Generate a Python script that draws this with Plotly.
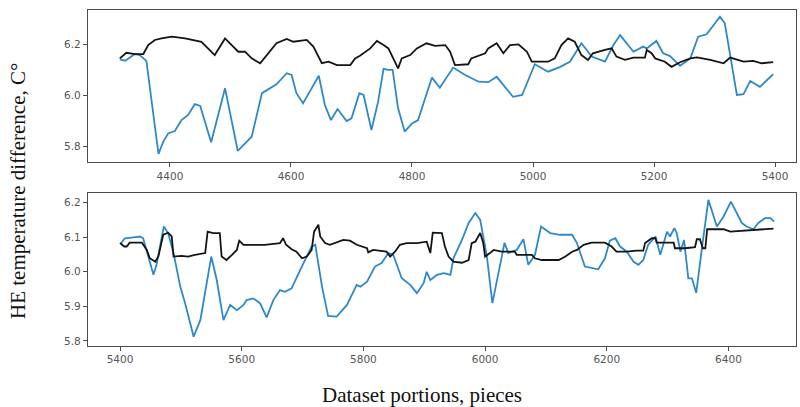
import plotly.graph_objects as go

# ---- Top panel data ----
top_blue_x = [4317, 4326, 4342, 4350, 4361, 4381, 4389, 4397, 4408, 4419, 4430, 4441, 4450, 4468, 4491,
              4512, 4527, 4535, 4552, 4565, 4576, 4593, 4601, 4609, 4620, 4631, 4646, 4656, 4666, 4677,
              4692, 4700, 4713, 4720, 4733, 4744, 4753, 4761, 4768, 4777, 4788, 4800, 4810, 4833, 4846,
              4868, 4888, 4910, 4926, 4940, 4951, 4967, 4982, 5003, 5025, 5045, 5061, 5080, 5097, 5119,
              5133, 5144, 5166, 5182, 5188, 5204, 5215, 5226, 5243, 5260, 5273, 5287, 5309, 5317, 5337,
              5348, 5359, 5375, 5397]
top_blue_y = [6.141, 6.136, 6.162, 6.158, 6.135, 5.772, 5.82, 5.852, 5.861, 5.904, 5.924, 5.966, 5.959, 5.817, 6.028,
              5.784, 5.82, 5.839, 6.009, 6.028, 6.044, 6.087, 6.080, 6.009, 5.970, 6.015, 6.077, 5.963, 5.904, 5.947,
              5.90, 5.911, 6.009, 6.002, 5.865, 5.976, 6.104, 6.100, 6.100, 5.95, 5.859, 5.891, 5.904, 6.07, 6.03,
              6.109, 6.080, 6.054, 6.052, 6.073, 6.041, 5.995, 6.002, 6.122, 6.093, 6.112, 6.132, 6.204, 6.152, 6.132,
              6.197, 6.236, 6.171, 6.191, 6.184, 6.213, 6.165, 6.155, 6.116, 6.145, 6.230, 6.239, 6.308, 6.282, 6.002,
              6.005, 6.057, 6.034, 6.083]

top_black_x = [4317, 4328, 4342, 4356, 4364, 4375, 4386, 4403, 4425, 4452, 4474, 4491, 4502, 4513, 4524,
               4535, 4549, 4565, 4576, 4593, 4604, 4626, 4637, 4651, 4662, 4676, 4698, 4706, 4714, 4731,
               4742, 4753, 4761, 4769, 4777, 4783, 4797, 4808, 4824, 4838, 4855, 4863, 4871, 4893, 4898,
               4921, 4926, 4940, 4951, 4962, 4976, 4990, 4998, 5025, 5036, 5047, 5058, 5069, 5080, 5091,
               5099, 5119, 5130, 5138, 5152, 5166, 5185, 5188, 5196, 5202, 5218, 5229, 5243, 5260, 5271,
               5293, 5315, 5326, 5348, 5364, 5378, 5397]
top_black_y = [6.145, 6.167, 6.162, 6.162, 6.197, 6.217, 6.223, 6.230, 6.223, 6.210, 6.158, 6.223, 6.197, 6.171, 6.171,
               6.145, 6.126, 6.171, 6.204, 6.221, 6.210, 6.217, 6.191, 6.126, 6.132, 6.119, 6.119, 6.145, 6.155, 6.184,
               6.213, 6.197, 6.184, 6.145, 6.106, 6.145, 6.158, 6.184, 6.204, 6.194, 6.197, 6.171, 6.119, 6.122, 6.145,
               6.165, 6.184, 6.204, 6.165, 6.197, 6.200, 6.171, 6.132, 6.132, 6.145, 6.197, 6.223, 6.210, 6.158, 6.139,
               6.165, 6.178, 6.184, 6.152, 6.139, 6.148, 6.148, 6.178, 6.165, 6.145, 6.132, 6.112, 6.130, 6.145, 6.149,
               6.139, 6.126, 6.148, 6.132, 6.135, 6.126, 6.130]

# ---- Bottom panel data ----
bot_blue_x = [5402, 5408, 5419, 5433, 5438, 5447, 5455, 5460, 5472, 5479, 5488, 5499, 5507, 5521, 5532,
              5550, 5559, 5570, 5581, 5592, 5603, 5608, 5619, 5630, 5641, 5652, 5663, 5671, 5682, 5696,
              5715, 5721, 5732, 5742, 5756, 5773, 5789, 5795, 5806, 5819, 5830, 5841, 5849, 5863, 5877,
              5888, 5899, 5904, 5910, 5921, 5932, 5943, 5948, 5962, 5973, 5984, 5992, 6003, 6012, 6022,
              6032, 6038, 6052, 6063, 6071, 6082, 6092, 6107, 6123, 6143, 6151, 6164, 6186, 6197, 6205,
              6214, 6222, 6233, 6244, 6252, 6260, 6268, 6280, 6288, 6299, 6304, 6311, 6315, 6321, 6327,
              6334, 6340, 6347, 6356, 6367, 6381, 6392, 6404, 6414, 6422, 6430, 6441, 6449, 6460, 6469,
              6475]
bot_blue_y = [6.083, 6.097, 6.099, 6.102, 6.097, 6.044, 5.991, 6.020, 6.131, 6.112, 6.054, 5.957, 5.909, 5.812, 5.860,
              6.044, 5.976, 5.860, 5.904, 5.889, 5.904, 5.918, 5.923, 5.909, 5.868, 5.918, 5.947, 5.942, 5.952, 6.005,
              6.073, 6.078, 5.957, 5.872, 5.870, 5.904, 5.962, 5.957, 5.971, 6.015, 6.025, 6.054, 6.049, 5.981, 5.962,
              5.938, 5.967, 6.000, 5.976, 5.991, 5.996, 5.991, 6.039, 6.092, 6.141, 6.170, 6.150, 6.044, 5.909, 5.996,
              6.084, 6.054, 6.063, 6.094, 6.020, 6.049, 6.131, 6.112, 6.107, 6.107, 6.083, 6.015, 6.007, 6.039, 6.090,
              6.097, 6.073, 6.058, 6.029, 6.020, 6.034, 6.078, 6.102, 6.049, 6.116, 6.102, 6.126, 6.112, 6.058, 6.092,
              5.981, 5.981, 5.939, 6.063, 6.208, 6.131, 6.160, 6.203, 6.170, 6.141, 6.131, 6.123, 6.141, 6.155, 6.155,
              6.145]

bot_black_x = [5400, 5407, 5411, 5416, 5436, 5444, 5449, 5458, 5463, 5471, 5479, 5485, 5488, 5501, 5512,
               5523, 5540, 5544, 5553, 5564, 5567, 5575, 5584, 5592, 5596, 5603, 5638, 5663, 5668, 5673,
               5682, 5690, 5699, 5707, 5715, 5719, 5726, 5729, 5737, 5745, 5767, 5778, 5789, 5806, 5808,
               5816, 5838, 5844, 5852, 5860, 5871, 5888, 5904, 5910, 5914, 5929, 5934, 5940, 5948, 5962,
               5973, 5978, 5984, 5992, 5997, 6000, 6008, 6014, 6027, 6049, 6052, 6077, 6082, 6093, 6121,
               6132, 6143, 6151, 6162, 6175, 6197, 6208, 6216, 6233, 6249, 6260, 6263, 6274, 6280, 6282,
               6310, 6312, 6329, 6345, 6348, 6353, 6358, 6362, 6365, 6392, 6403, 6425, 6447, 6474]
bot_black_y = [6.083, 6.073, 6.073, 6.084, 6.084, 6.063, 6.039, 6.029, 6.044, 6.107, 6.113, 6.102, 6.044, 6.046, 6.044,
               6.049, 6.054, 6.116, 6.112, 6.112, 6.044, 6.034, 6.049, 6.063, 6.090, 6.078, 6.078, 6.083, 6.097, 6.078,
               6.065, 6.058, 6.039, 6.044, 6.063, 6.116, 6.136, 6.102, 6.083, 6.078, 6.092, 6.090, 6.078, 6.068, 6.056,
               6.063, 6.058, 6.044, 6.058, 6.078, 6.083, 6.083, 6.087, 6.054, 6.113, 6.112, 6.073, 6.044, 6.029, 6.026,
               6.034, 6.083, 6.087, 6.112, 6.083, 6.044, 6.054, 6.063, 6.058, 6.058, 6.049, 6.049, 6.039, 6.034, 6.034,
               6.044, 6.058, 6.063, 6.078, 6.084, 6.084, 6.073, 6.058, 6.058, 6.061, 6.061, 6.083, 6.097, 6.097, 6.084,
               6.084, 6.068, 6.068, 6.071, 6.094, 6.094, 6.068, 6.068, 6.123, 6.123, 6.116, 6.119, 6.121, 6.125]

top_xticks = [4400, 4600, 4800, 5000, 5200, 5400]
top_yticks = [5.8, 6.0, 6.2]
bot_xticks = [5400, 5600, 5800, 6000, 6200, 6400]
bot_yticks = [5.8, 5.9, 6.0, 6.1, 6.2]

x_title = "Dataset portions, pieces"
y_title = "HE temperature difference, C°"

BLUE = "#2f88c8"
BLACK = "#141414"
W, H = 800, 407

fig = go.Figure()
fig.add_trace(go.Scatter(x=top_blue_x, y=top_blue_y, mode="lines",
                         line=dict(color=BLUE, width=1.8), xaxis="x", yaxis="y", showlegend=False))
fig.add_trace(go.Scatter(x=top_black_x, y=top_black_y, mode="lines",
                         line=dict(color=BLACK, width=1.8), xaxis="x", yaxis="y", showlegend=False))
fig.add_trace(go.Scatter(x=bot_blue_x, y=bot_blue_y, mode="lines",
                         line=dict(color=BLUE, width=1.8), xaxis="x2", yaxis="y2", showlegend=False))
fig.add_trace(go.Scatter(x=bot_black_x, y=bot_black_y, mode="lines",
                         line=dict(color=BLACK, width=1.8), xaxis="x2", yaxis="y2", showlegend=False))

L, R = 88, 796
axis_common = dict(showgrid=False, zeroline=False, showline=True, mirror=True,
                   linecolor="#4a4a4a", linewidth=1.2, ticks="outside", ticklen=4,
                   tickcolor="#4a4a4a", tickwidth=1,
                   tickfont=dict(family="DejaVu Sans", size=10.5, color="#555555"))

fig.update_layout(
    width=W, height=H,
    margin=dict(l=0, r=0, t=0, b=0),
    paper_bgcolor="white", plot_bgcolor="white",
    xaxis=dict(domain=[L / W, R / W], range=[4264.5, 5434.7], tickvals=top_xticks,
               anchor="y", **axis_common),
    yaxis=dict(domain=[(H - 162.3) / H, (H - 9.5) / H], range=[5.739, 6.336],
               tickvals=top_yticks, tickformat=".1f", anchor="x", **axis_common),
    xaxis2=dict(domain=[L / W, R / W], range=[5347.4, 6511], tickvals=bot_xticks,
                anchor="y2", **axis_common),
    yaxis2=dict(domain=[(H - 345.7) / H, (H - 193.3) / H], range=[5.786, 6.227],
                tickvals=bot_yticks, tickformat=".1f", anchor="x2", **axis_common),
    annotations=[
        dict(text=x_title, x=422 / W, y=(H - 395) / H, xref="paper", yref="paper",
             showarrow=False, xanchor="center", yanchor="middle",
             font=dict(family="Liberation Serif", size=21, color="#111111")),
        dict(text=y_title, x=18 / W, y=(H - 191) / H, xref="paper", yref="paper",
             showarrow=False, xanchor="center", yanchor="middle", textangle=-90,
             font=dict(family="Liberation Serif", size=21, color="#111111")),
    ],
)

fig.write_html("out.html")
